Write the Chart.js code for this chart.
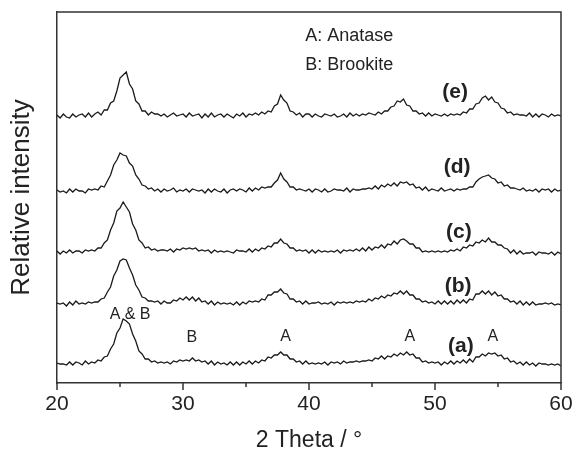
<!DOCTYPE html>
<html>
<head>
<meta charset="utf-8">
<title>XRD patterns</title>
<script src="https://cdn.jsdelivr.net/npm/chart.js@4.4.1/dist/chart.umd.min.js"></script>
<style>
  html, body { margin: 0; padding: 0; background: #fff; }
  #wrap { width: 573px; height: 454px; position: relative; }
</style>
</head>
<body>
<div id="wrap"><canvas id="chart-xrd"></canvas></div>
<script>
// 2 theta sampling: 20..60 deg, one reading every 0.25 deg
var twoThetaStart = 20;
var twoThetaStep = 0.25;

// intensities above each trace's own baseline (arbitrary units)
var sampleA = [2,1,1,0, 3,0,3,2, 0,4,1,3, 2,5,4,8, 9,16,21,32, 37,46,44,41, 31,24,14,11, 6,6,3,4, 2,3,2,3, 1,4,3,5,
  4,5,4,7, 4,5,3,4, 1,4,0,3, 1,2,0,3, 0,3,0,3, 1,4,1,4, 2,5,4,8, 7,10,10,13, 10,10,6,6, 3,4,1,4,
  1,2,1,2, 1,3,0,3, 2,3,1,4, 2,3,3,4, 3,4,4,5, 4,7,6,9, 6,9,8,11, 9,12,10,13, 10,11,7,7, 3,4,2,3,
  2,3,0,3, 1,4,1,4, 2,5,2,6, 3,8,8,11, 9,12,11,12, 9,10,6,7, 3,4,1,3, 0,3,0,2, -1,2,1,1, 0,1,0,1, -1];
var sampleB = [2,1,2,-1, 3,0,4,1, 2,1,3,2, 3,3,6,7, 13,18,29,35, 44,46,45,37, 30,20,15,8, 7,4,4,3, 4,1,4,2, 2,5,4,7,
  5,8,5,8, 4,7,3,4, 1,4,0,3, 1,2,1,2, 0,3,0,3, 1,4,3,4, 3,6,5,10, 10,13,13,16, 12,11,6,6, 3,4,1,4,
  1,2,2,3, 1,2,1,3, 0,3,2,3, 2,3,2,4, 3,4,3,6, 4,7,6,9, 7,10,9,12, 11,14,11,14, 10,10,6,6, 3,4,2,3,
  1,4,1,4, 1,4,1,5, 2,5,2,6, 5,11,11,14, 11,14,10,13, 9,10,6,6, 3,4,1,4, 0,3,0,3, 0,1,1,2, 1,2,0,1, 0];
var sampleC = [2,-1,2,0, 3,0,2,2, 0,3,2,3, 2,5,5,10, 13,23,30,42, 45,51,46,41, 29,23,13,10, 5,6,3,4, 2,3,3,2, 4,1,4,3,
  5,4,5,4, 5,2,3,2, 3,0,3,1, 2,1,2,1, 0,3,2,2, 1,4,1,4, 2,5,4,7, 6,10,10,14, 10,9,5,5, 2,3,2,3,
  0,3,0,3, 1,2,1,2, 1,3,0,3, 2,3,2,4, 2,5,2,6, 3,6,5,8, 5,9,8,12, 9,13,14,12, 9,9,5,5, 1,2,1,2,
  1,2,1,2, 1,3,2,4, 2,6,5,8, 7,11,10,13, 11,15,11,11, 8,8,5,4, 0,3,-1,2, -1,0,0,1, -2,1,0,0, -1,1,-2,1, -1];
var sampleD = [2,0,1,-1, 3,0,3,1, 1,-1,3,2, 3,2,6,5, 11,17,27,32, 39,37,36,29, 26,17,13,7, 6,3,4,1, 3,0,3,1, 2,4,0,2,
  1,3,0,3, 2,1,2,-1, 3,0,3,1, 0,3,-1,2, 3,1,3,2, 0,4,1,4, 2,5,4,5, 5,9,12,19, 13,10,5,5, 2,3,2,1,
  3,0,3,2, 0,3,0,1, 3,2,2,1, 4,0,3,2, 2,3,3,4, 3,6,3,7, 5,8,6,9, 6,10,9,10, 7,8,4,5, 2,5,1,3,
  2,1,4,1, 2,3,1,3, 2,3,3,5, 5,10,13,15, 16,17,14,13, 9,10,6,7, 4,4,3,2, 4,1,2,1, 3,0,3,2, 3,0,3,1, 2];
var sampleE = [2,-1,3,0, -1,3,0,2, 3,0,4,0, 3,5,2,7, 7,14,16,26, 39,42,45,33, 28,16,13,6, 6,2,5,3, 3,1,3,0, 2,4,1,2,
  3,0,4,1, 2,3,-1,3, 0,4,0,2, 3,0,3,1, -1,3,1,4, 0,3,2,4, 2,5,3,6, 5,11,13,22, 17,14,6,5, 2,4,0,3,
  3,0,3,1, 0,3,2,1, 3,0,1,3, 0,4,1,3, 1,3,2,4, 3,2,5,3, 6,6,10,11, 16,15,18,12, 11,6,6,3, 4,1,4,1,
  3,2,1,3, 1,3,2,3, 2,5,4,8, 8,13,14,19, 21,17,20,15, 14,9,8,4, 5,2,3,2, 2,1,4,0, 3,0,3,2, 0,3,1,2, 1];

var traces = [sampleA, sampleB, sampleC, sampleD, sampleE];
var traceNames = ['(a)', '(b)', '(c)', '(d)', '(e)'];
var traceOffsets = [18, 78, 130, 191, 266];   // vertical stacking of the patterns

// text placed in data coordinates (2 theta, intensity)
var notes = [
  { text: 'A: Anatase', x: 39.7, y: 347, align: 'left', font: '18px "Liberation Sans", Arial, sans-serif' },
  { text: 'B: Brookite', x: 39.7, y: 318, align: 'left', font: '18px "Liberation Sans", Arial, sans-serif' },
  { text: '(e)', x: 51.6, y: 291, bold: true },
  { text: '(d)', x: 51.75, y: 216, bold: true },
  { text: '(c)', x: 51.9, y: 151, bold: true },
  { text: '(b)', x: 51.83, y: 97, bold: true },
  { text: '(a)', x: 52.05, y: 37, bold: true },
  { text: 'A & B', x: 25.8, y: 68 },
  { text: 'B', x: 30.7, y: 45 },
  { text: 'A', x: 38.15, y: 46 },
  { text: 'A', x: 48.0, y: 46 },
  { text: 'A', x: 54.6, y: 46 }
];

function toPoints(values, offset) {
  return values.map(function (v, i) {
    return { x: twoThetaStart + i * twoThetaStep, y: v + offset };
  });
}

var datasets = traces.map(function (t, k) {
  return {
    label: traceNames[k],
    data: toPoints(t, traceOffsets[k]),
    borderColor: '#1a1a1a',
    borderWidth: 1.3,
    pointRadius: 0,
    tension: 0,
    fill: false
  };
});

var framePlugin = {
  id: 'frame',
  afterDraw: function (chart) {
    var ctx = chart.ctx, a = chart.chartArea;
    var xs = chart.scales.x, ys = chart.scales.y;
    ctx.save();
    ctx.strokeStyle = '#333';
    ctx.lineWidth = 1.5;
    ctx.beginPath();
    ctx.moveTo(a.left, a.top);
    ctx.lineTo(a.right, a.top);
    ctx.lineTo(a.right, a.bottom);
    xs.ticks.forEach(function (t) {
      var px = xs.getPixelForValue(t.value);
      var len = (t.value % 10 === 0) ? 7 : 4;
      ctx.moveTo(px, a.bottom);
      ctx.lineTo(px, a.bottom + len);
    });
    ctx.stroke();

    ctx.fillStyle = '#222';
    ctx.textBaseline = 'middle';
    notes.forEach(function (n) {
      ctx.font = n.font || (n.bold ? 'bold 21px "Liberation Sans", Arial, sans-serif'
                                   : '16px "Liberation Sans", Arial, sans-serif');
      ctx.textAlign = n.align || 'center';
      ctx.fillText(n.text, xs.getPixelForValue(n.x), ys.getPixelForValue(n.y));
    });
    ctx.restore();
  }
};

var chartXrd = new Chart(document.getElementById('chart-xrd'), {
  type: 'line',
  data: { datasets: datasets },
  options: {
    responsive: true,
    maintainAspectRatio: false,
    animation: false,
    layout: { padding: { top: 12, right: 0, left: 0, bottom: 0 } },
    plugins: {
      legend: { display: false },
      tooltip: { enabled: false }
    },
    scales: {
      x: {
        type: 'linear',
        min: 20,
        max: 60,
        grid: { display: false, drawTicks: false },
        border: { display: true, color: '#333', width: 1.5 },
        ticks: {
          stepSize: 5,
          padding: 9,
          color: '#222',
          font: { family: '"Liberation Sans", Arial, sans-serif', size: 21 },
          callback: function (v) { return v % 10 === 0 ? v : ''; }
        },
        title: {
          display: true,
          text: '2 Theta / °',
          color: '#222',
          font: { family: '"Liberation Sans", Arial, sans-serif', size: 23 },
          padding: { top: 0, bottom: 0 }
        },
        afterFit: function (s) {
          s.height = 71;
          s.paddingLeft = 0;
          s.paddingRight = 12;
        }
      },
      y: {
        min: 0,
        max: 371,
        grid: { display: false, drawTicks: false },
        border: { display: true, color: '#333', width: 1.5 },
        ticks: { display: false },
        title: {
          display: true,
          text: 'Relative intensity',
          color: '#222',
          font: { family: '"Liberation Sans", Arial, sans-serif', size: 26 },
          padding: { top: 6, bottom: 0 }
        },
        afterFit: function (s) { s.width = 57; }
      }
    }
  },
  plugins: [framePlugin]
});
</script>
</body>
</html>
